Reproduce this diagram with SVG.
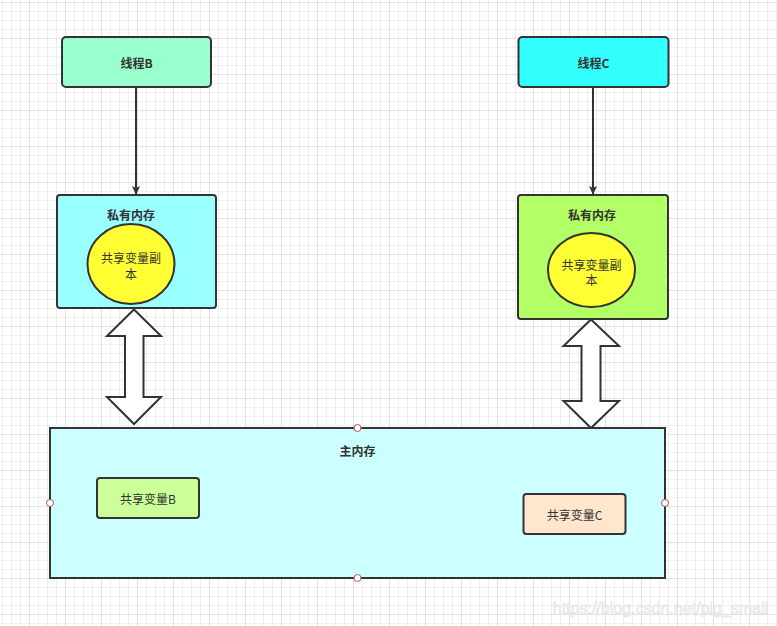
<svg xmlns="http://www.w3.org/2000/svg" width="777" height="626" viewBox="0 0 777 626">
<defs>
<pattern id="grid" patternUnits="userSpaceOnUse" x="29" y="2" width="36" height="36">
<rect x="9" y="0" width="1" height="36" fill="#efefef"/>
<rect x="18" y="0" width="1" height="36" fill="#efefef"/>
<rect x="27" y="0" width="1" height="36" fill="#efefef"/>
<rect x="0" y="9" width="36" height="1" fill="#efefef"/>
<rect x="0" y="18" width="36" height="1" fill="#efefef"/>
<rect x="0" y="27" width="36" height="1" fill="#efefef"/>
<rect x="0" y="0" width="1" height="36" fill="#e2e2e2"/>
<rect x="0" y="0" width="36" height="1" fill="#e2e2e2"/>
</pattern>
<marker id="arrow" markerWidth="10" markerHeight="10" refX="8" refY="5" orient="auto" markerUnits="userSpaceOnUse">
<path d="M0,1 L9,5 L0,9 L2,5 Z" fill="#333"/>
</marker>
<style>
.box{stroke:#333;stroke-width:2}
.t{font-family:"Noto Sans CJK SC","Microsoft YaHei",sans-serif;font-size:12px;fill:#333;text-anchor:middle;dominant-baseline:central}
.b{font-weight:bold}
.conn{stroke:#333;stroke-width:2;fill:none}
.dbl{fill:#fff;stroke:#333;stroke-width:2;stroke-linejoin:miter}
.h{fill:#fff;stroke:#b85450;stroke-width:1}
</style>
</defs>
<rect width="777" height="626" fill="#fff"/>
<rect width="777" height="626" fill="url(#grid)"/>

<g id="connectors">
<line class="conn" x1="136" y1="88" x2="136" y2="194" marker-end="url(#arrow)"/>
<line class="conn" x1="593" y1="88" x2="593" y2="194" marker-end="url(#arrow)"/>
<path class="dbl" d="M134,309.5 L161,336 L143.5,336 L143.5,397 L161,397 L134,424 L107,397 L125,397 L125,336 L107,336 Z"/>
<path class="dbl" d="M591,319.5 L619,346 L600.5,346 L600.5,401 L619,401 L591,428 L563.5,401 L581.5,401 L581.5,346 L563.5,346 Z"/>
</g>

<g id="threadB">
<rect class="box" x="62" y="37" width="149" height="50" rx="4" fill="#99FFCC"/>
<text class="t b" x="136.5" y="62">线程B</text>
</g>
<g id="threadC">
<rect class="box" x="518.5" y="37" width="150" height="50" rx="4" fill="#33FFFF"/>
<text class="t b" x="593.5" y="62">线程C</text>
</g>

<g id="privB">
<rect class="box" x="57" y="195" width="159" height="113" rx="3" fill="#99FFFF"/>
<text class="t b" x="131" y="214">私有内存</text>
</g>
<g id="copyB">
<ellipse class="box" cx="131" cy="264" rx="43.5" ry="40" fill="#FFFF33"/>
<text class="t" x="131" y="257"><tspan x="131" y="257">共享变量副</tspan><tspan x="131" y="272.5">本</tspan></text>
</g>

<g id="privC">
<rect class="box" x="518" y="195" width="150" height="124" rx="3" fill="#B3FF66"/>
<text class="t b" x="592" y="214">私有内存</text>
</g>
<g id="copyC">
<ellipse class="box" cx="591.5" cy="270" rx="43.5" ry="37" fill="#FFFF33"/>
<text class="t" x="591.5" y="264"><tspan x="591.5" y="263.5">共享变量副</tspan><tspan x="591.5" y="279">本</tspan></text>
</g>

<g id="mainMem">
<rect class="box" x="50" y="428" width="615" height="150" fill="#CCFFFF"/>
<text class="t b" x="357.5" y="450">主内存</text>
<circle class="h" cx="357.5" cy="428" r="3.5"/>
<circle class="h" cx="50" cy="503" r="3.5"/>
<circle class="h" cx="665" cy="503" r="3.5"/>
<circle class="h" cx="357.5" cy="578" r="3.5"/>
</g>

<g id="varB">
<rect class="box" x="97" y="478" width="102" height="40" rx="3" fill="#CCFF99"/>
<text class="t" x="148" y="498.5">共享变量B</text>
</g>
<g id="varC">
<rect class="box" x="523.5" y="494" width="102" height="40" rx="3" fill="#FFE6CC"/>
<text class="t" x="574.5" y="514">共享变量C</text>
</g>

<text x="768" y="614" font-family="'Liberation Sans',Arial,sans-serif" font-size="16" fill="#f4f4f4" stroke="#d8d8d8" stroke-width="0.4" text-anchor="end">https://blog.csdn.net/pig_small</text>
</svg>
